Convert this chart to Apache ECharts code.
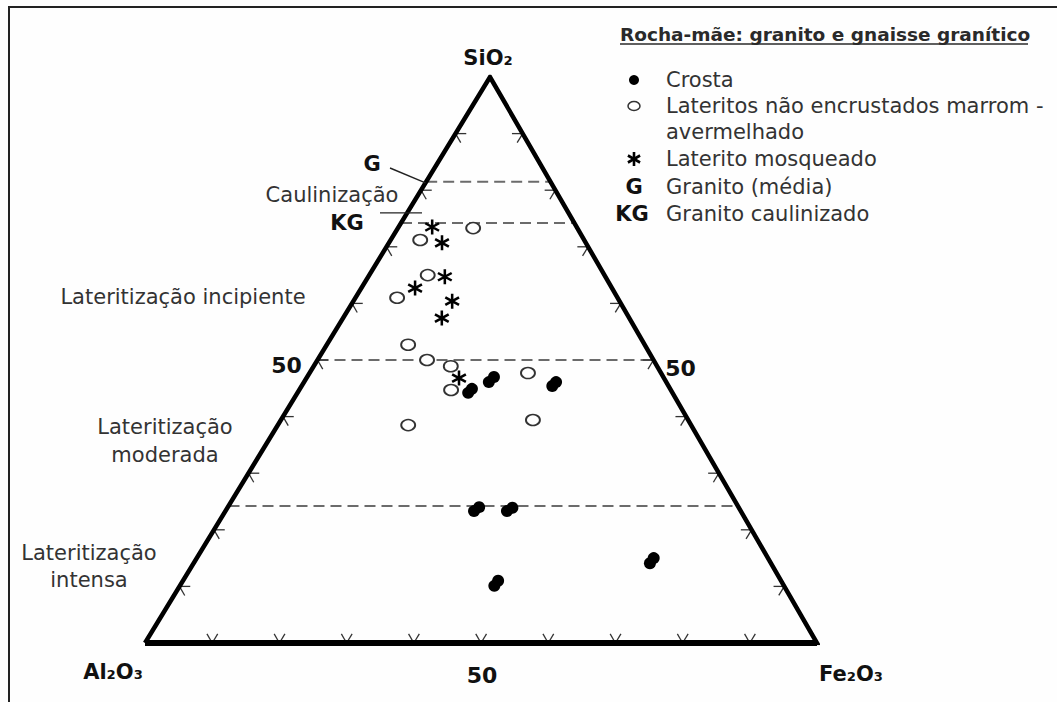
<!DOCTYPE html>
<html>
<head>
<meta charset="utf-8">
<title>Diagrama ternário SiO2 - Al2O3 - Fe2O3</title>
<script src="https://cdn.jsdelivr.net/npm/echarts@6/dist/echarts.min.js"></script>
<style>
  html, body { margin: 0; padding: 0; background: #fefefe; }
  #chart { width: 1057px; height: 702px; }
</style>
</head>
<body>
<div id="chart"></div>
<script>
// Compositions in % as [SiO2, Al2O3, Fe2O3]
const crosta = [
  [44.2, 30.4, 25.4], [44.9, 29.5, 25.6],
  [46.1, 26.4, 27.5], [47.0, 25.2, 27.8],
  [45.4, 17.3, 37.3], [46.1, 16.4, 37.5],
  [23.3, 39.7, 37.0], [24.0, 38.6, 37.4],
  [23.3, 34.8, 41.9], [23.9, 33.7, 42.4],
  [10.1, 43.1, 46.8], [11.0, 42.1, 46.9],
  [14.1, 18.0, 67.9], [15.0, 17.0, 68.0]
];
const lateritos = [
  [73.3, 15.5, 11.2], [71.2, 24.4, 4.4], [65.0, 26.3, 8.7],
  [61.0, 32.8, 6.2], [52.7, 35.2, 12.1], [50.0, 33.7, 16.3],
  [48.9, 30.7, 20.4], [47.7, 19.8, 32.5], [44.7, 32.7, 22.6],
  [38.5, 42.1, 19.4], [39.4, 23.1, 37.5]
];
const mosqueado = [
  [73.5, 21.5, 5.0], [70.7, 21.4, 7.9], [64.7, 23.9, 11.4],
  [62.7, 29.3, 8.0], [60.4, 24.9, 14.7], [57.4, 27.9, 14.7],
  [46.8, 30.5, 22.7]
];
const granito = [81.3, 18.7, 0.0];            // G
const granitoCaulinizado = [76.0, 21.8, 2.2]; // KG
// SiO2 levels of the dashed zone boundaries
const zoneLevels = [81.5, 74.2, 50, 24.2];
// tick positions along every side, and the labelled mid value
const tickValues = [10, 20, 30, 40, 50, 60, 70, 80, 90];
const midValue = 50;
const vertexNames = ['SiO₂', 'Al₂O₃', 'Fe₂O₃'];

const FONT = '"DejaVu Sans", Verdana, sans-serif';
const APEX_X = 51.34;   // horizontal position of the SiO2 apex, % of the base
const TICK_LEN = 1.6;   // tick stub length in composition units

// ternary composition -> cartesian (x: 0..100 along the base, y: SiO2)
function cart(c) {
  const s = c[0] + c[1] + c[2];
  const si = c[0] * 100 / s, fe = c[2] * 100 / s;
  return [fe + si * APEX_X / 100, si];
}
const V_SI = [100, 0, 0], V_AL = [0, 100, 0], V_FE = [0, 0, 100];

const STAR = 'path://M8.4 0L11.6 0L11.6 20L8.4 20Z' +
  'M0.54 6.39L2.14 3.61L19.46 13.61L17.86 16.39Z' +
  'M0.54 13.61L17.86 3.61L19.46 6.39L2.14 16.39Z';

const tickData = [];
[0, 1, 2].forEach(side => tickValues.forEach(t => tickData.push([side, t])));

const chart = echarts.init(document.getElementById('chart'), null, { renderer: 'svg' });

const option = {
  animation: false,
  backgroundColor: '#fefefe',
  grid: { left: 145, right: 240, top: 77, bottom: 59 },
  xAxis: { type: 'value', min: 0, max: 100, show: false },
  yAxis: { type: 'value', min: 0, max: 100, show: false },
  series: [
    // zone boundaries (constant SiO2)
    ...zoneLevels.map(s => ({
      type: 'line', silent: true, z: 1, symbol: 'none',
      data: [cart([s, 100 - s, 0]), cart([s, 0, 100 - s])],
      lineStyle: { color: '#6b6b6b', width: 2, type: [11, 6] }
    })),
    // tick stubs on the three sides
    {
      type: 'custom', silent: true, z: 2,
      data: tickData,
      renderItem(params, api) {
        const side = api.value(0), t = api.value(1), d = TICK_LEN;
        let p, a, b;
        if (side === 0) {        // base: Al2O3 - Fe2O3
          p = [0, 100 - t, t]; a = [d, 100 - t - d, t]; b = [d, 100 - t, t - d];
        } else if (side === 1) { // left: Al2O3 - SiO2
          p = [t, 100 - t, 0]; a = [t, 100 - t - d, d]; b = [t - d, 100 - t, d];
        } else {                 // right: Fe2O3 - SiO2
          p = [t, 0, 100 - t]; a = [t, d, 100 - t - d]; b = [t - d, d, 100 - t];
        }
        const P = api.coord(cart(p)), A = api.coord(cart(a)), B = api.coord(cart(b));
        const st = { stroke: '#333', lineWidth: 1.3 };
        return {
          type: 'group', children: [
            { type: 'line', shape: { x1: P[0], y1: P[1], x2: A[0], y2: A[1] }, style: st },
            { type: 'line', shape: { x1: P[0], y1: P[1], x2: B[0], y2: B[1] }, style: st }
          ]
        };
      }
    },
    // triangle outline
    {
      type: 'line', silent: true, z: 3, symbol: 'none',
      data: [cart(V_AL), cart(V_FE), cart(V_SI), cart(V_AL)],
      lineStyle: { color: '#000', width: 4.5, join: 'miter', miterLimit: 10 }
    },
    {
      type: 'line', silent: true, z: 3, symbol: 'none',
      data: [cart(V_AL), cart(V_FE)],
      lineStyle: { color: '#000', width: 6 }
    },
    {
      name: 'Lateritos não encrustados marrom - avermelhado',
      type: 'scatter', z: 4, data: lateritos.map(cart),
      symbol: 'circle', symbolSize: [14, 11],
      itemStyle: { color: '#fff', borderColor: '#333', borderWidth: 1.7, opacity: 1 }
    },
    {
      name: 'Laterito mosqueado',
      type: 'scatter', z: 5, data: mosqueado.map(cart),
      symbol: STAR, symbolSize: 15,
      itemStyle: { color: '#000', opacity: 1 }
    },
    {
      name: 'Crosta',
      type: 'scatter', z: 6, data: crosta.map(cart),
      symbol: 'circle', symbolSize: 12,
      itemStyle: { color: '#000', opacity: 1 }
    }
  ]
};
chart.setOption(option);

// annotations, legend and frame
const px = c => chart.convertToPixel({ gridIndex: 0 }, cart(c));
const gPx = px(granito);
const kgPx = px(granitoCaulinizado);
const siPx = px(V_SI), alPx = px(V_AL), fePx = px(V_FE);
const midL = px([midValue, 100 - midValue, 0]);
const midR = px([midValue, 0, 100 - midValue]);
const midB = px([0, 100 - midValue, midValue]);

const txt = (text, x, y, opts) => ({
  type: 'text', silent: true, z: 10,
  style: Object.assign({
    text, x, y, font: '21px ' + FONT, fill: '#333',
    align: 'left', verticalAlign: 'middle'
  }, opts || {})
});
const bold = (text, x, y, size, align) => txt(text, x, y,
  { font: 'bold ' + size + 'px ' + FONT, fill: '#111', align: align || 'center' });

const starLegend = (cx, cy) => ({
  type: 'group', x: cx, y: cy, silent: true, z: 10,
  children: [90, 30, 150].map(a => {
    const r = 7, rad = a * Math.PI / 180;
    return {
      type: 'line',
      shape: { x1: -r * Math.cos(rad), y1: -r * Math.sin(rad), x2: r * Math.cos(rad), y2: r * Math.sin(rad) },
      style: { stroke: '#000', lineWidth: 2.6 }
    };
  })
});

chart.setOption({
  graphic: [
    { type: 'rect', silent: true, z: 0, shape: { x: 9, y: 7, width: 1200, height: 900 },
      style: { fill: 'none', stroke: '#222', lineWidth: 2 } },
    // vertex names and mid-side values
    bold(vertexNames[0], siPx[0] - 2, siPx[1] - 19, 21),
    bold(vertexNames[1], alPx[0] - 32, alPx[1] + 29, 21),
    bold(vertexNames[2], fePx[0] + 34, fePx[1] + 31, 21),
    bold(String(midValue), midL[0] - 31, midL[1] + 5, 22),
    bold(String(midValue), midR[0] + 27, midR[1] + 8, 22),
    bold(String(midValue), midB[0] + 1, midB[1] + 32, 22),
    // zone names
    txt('Caulinização', 332, 195, { align: 'center' }),
    txt('Lateritização incipiente', 183, 297, { align: 'center' }),
    txt('Lateritização', 165, 427, { align: 'center' }),
    txt('moderada', 165, 455, { align: 'center' }),
    txt('Lateritização', 89, 553, { align: 'center' }),
    txt('intensa', 89, 580, { align: 'center' }),
    // G / KG markers with leaders
    bold('G', 372, 164, 21),
    bold('KG', 347, 223, 21),
    { type: 'line', silent: true, z: 9, shape: { x1: 390, y1: 168, x2: gPx[0], y2: gPx[1] },
      style: { stroke: '#222', lineWidth: 1.4 } },
    { type: 'line', silent: true, z: 9, shape: { x1: 380, y1: kgPx[1], x2: kgPx[0], y2: kgPx[1] },
      style: { stroke: '#222', lineWidth: 1.4 } },
    // legend
    txt('Rocha-mãe: granito e gnaisse granítico', 620, 34,
      { font: 'bold 18.5px ' + FONT, fill: '#2a2a2a' }),
    { type: 'line', silent: true, z: 10, shape: { x1: 620, y1: 44, x2: 1028, y2: 44 },
      style: { stroke: '#2a2a2a', lineWidth: 1.6 } },
    { type: 'circle', silent: true, z: 10, shape: { cx: 634, cy: 80, r: 5 }, style: { fill: '#000' } },
    txt('Crosta', 666, 80),
    { type: 'ellipse', silent: true, z: 10, shape: { cx: 634, cy: 106, rx: 6, ry: 4.5 },
      style: { fill: '#fff', stroke: '#333', lineWidth: 1.5 } },
    txt('Lateritos não encrustados marrom -', 666, 106),
    txt('avermelhado', 666, 132),
    starLegend(634, 159),
    txt('Laterito mosqueado', 666, 159),
    bold('G', 634, 187, 21),
    txt('Granito (média)', 666, 187),
    bold('KG', 632, 214, 21),
    txt('Granito caulinizado', 666, 214)
  ]
});
</script>
</body>
</html>
